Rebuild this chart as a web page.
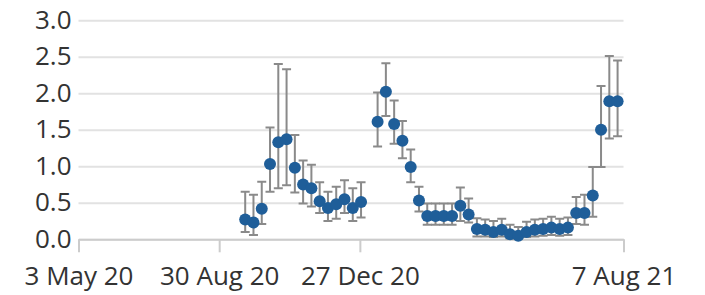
<!DOCTYPE html>
<html>
<head>
<meta charset="utf-8">
<script src="https://cdn.jsdelivr.net/npm/d3@7"></script>
<style>
  html, body { margin: 0; padding: 0; background: #fff; }
  svg { display: block; font-family: "Open Sans", sans-serif; }
</style>
</head>
<body>
<script>
// weekly estimates, week of (Monday); one week missing in early January
const weeks = [
  "2020-09-21", "2020-09-28", "2020-10-05", "2020-10-12", "2020-10-19",
  "2020-10-26", "2020-11-02", "2020-11-09", "2020-11-16", "2020-11-23",
  "2020-11-30", "2020-12-07", "2020-12-14", "2020-12-21", "2020-12-28",
  "2021-01-11", "2021-01-18", "2021-01-25", "2021-02-01", "2021-02-08",
  "2021-02-15", "2021-02-22", "2021-03-01", "2021-03-08", "2021-03-15",
  "2021-03-22", "2021-03-29", "2021-04-05", "2021-04-12", "2021-04-19",
  "2021-04-26", "2021-05-03", "2021-05-10", "2021-05-17", "2021-05-24",
  "2021-05-31", "2021-06-07", "2021-06-14", "2021-06-21", "2021-06-28",
  "2021-07-05", "2021-07-12", "2021-07-19", "2021-07-26", "2021-08-02",
];
const estimate = [
  0.27, 0.23, 0.42, 1.03, 1.33, 1.37, 0.98, 0.75, 0.70, 0.52,
  0.43, 0.48, 0.55, 0.43, 0.51,
  1.61, 2.02, 1.58, 1.35, 0.99, 0.53, 0.32, 0.32, 0.32, 0.32,
  0.46, 0.34, 0.14, 0.13, 0.10, 0.13, 0.07, 0.05, 0.10, 0.13,
  0.14, 0.16, 0.14, 0.16, 0.36, 0.36, 0.60, 1.50, 1.89, 1.89,
];
const lower = [
  0.10, 0.06, 0.21, 0.65, 0.70, 0.74, 0.64, 0.49, 0.45, 0.36,
  0.25, 0.28, 0.36, 0.25, 0.30,
  1.27, 1.69, 1.31, 1.11, 0.78, 0.38, 0.20, 0.20, 0.20, 0.20,
  0.25, 0.23, 0.04, 0.04, 0.03, 0.04, 0.01, 0.01, 0.03, 0.04,
  0.05, 0.06, 0.05, 0.06, 0.21, 0.20, 0.31, 0.99, 1.38, 1.41,
];
const upper = [
  0.65, 0.61, 0.79, 1.53, 2.40, 2.33, 1.43, 1.08, 1.02, 0.78,
  0.65, 0.72, 0.81, 0.70, 0.78,
  2.01, 2.41, 1.90, 1.62, 1.23, 0.72, 0.49, 0.49, 0.49, 0.49,
  0.71, 0.56, 0.29, 0.27, 0.25, 0.28, 0.20, 0.17, 0.24, 0.27,
  0.28, 0.31, 0.28, 0.30, 0.58, 0.61, 0.99, 2.10, 2.51, 2.45,
];
const xTicks = ["2020-05-03", "2020-08-30", "2020-12-27", "2021-08-07"];
const yTicks = [0, 0.5, 1, 1.5, 2, 2.5, 3];

const WIDTH = 705;
const HEIGHT = 295;
const MARGIN = { top: 20.3, right: 81.5, bottom: 55.7, left: 78.5 };
const DOT_COLOR = "#1f5e99";
const BAR_COLOR = "#8a8a8a";
const GRID_COLOR = "#e2e2e2";
const AXIS_COLOR = "#cccccc";
const TEXT_COLOR = "#333";

const parse = d3.utcParse("%Y-%m-%d");
const fmt = d3.utcFormat("%-d %b %y");

const data = weeks.map((w, i) => ({
  date: parse(w),
  value: estimate[i],
  lo: lower[i],
  hi: upper[i],
}));

const xScale = d3
  .scaleUtc()
  .domain([parse(xTicks[0]), parse(xTicks[xTicks.length - 1])])
  .range([MARGIN.left, WIDTH - MARGIN.right]);
const yScale = d3
  .scaleLinear()
  .domain([0, 3])
  .range([HEIGHT - MARGIN.bottom, MARGIN.top]);

const grid = g =>
  g
    .attr("transform", `translate(${MARGIN.left}, 0)`)
    .call(
      d3
        .axisLeft(yScale)
        .tickValues(yTicks)
        .tickSize(-(WIDTH - MARGIN.left - MARGIN.right))
        .tickFormat("")
    )
    .call(g => g.select(".domain").remove())
    .call(g => g.selectAll(".tick line").attr("stroke", GRID_COLOR).attr("stroke-width", 2));

const yAxis = g =>
  g
    .attr("transform", `translate(${MARGIN.left - 7}, 0)`)
    .call(
      d3
        .axisLeft(yScale)
        .tickValues(yTicks)
        .tickSize(0)
        .tickPadding(0)
        .tickFormat(d3.format(".1f"))
    )
    .call(g => g.select(".domain").remove())
    .call(g =>
      g
        .selectAll(".tick text")
        .attr("fill", TEXT_COLOR)
        .attr("font-size", 26)
        .attr("font-family", "Open Sans, sans-serif")
        .attr("dy", "0.3em")
    );

const xAxis = g =>
  g
    .attr("transform", `translate(0, ${yScale(0)})`)
    .call(
      d3
        .axisBottom(xScale)
        .tickValues(xTicks.map(parse))
        .tickSize(13)
        .tickSizeOuter(0)
        .tickPadding(0)
        .tickFormat(fmt)
    )
    .call(g => g.select(".domain").attr("stroke", AXIS_COLOR).attr("stroke-width", 2))
    .call(g => g.selectAll(".tick line").attr("stroke", AXIS_COLOR).attr("stroke-width", 2))
    .call(g =>
      g
        .selectAll(".tick text")
        .attr("fill", TEXT_COLOR)
        .attr("font-size", 26)
        .attr("font-family", "Open Sans, sans-serif")
        .attr("y", 46)
        .attr("dy", 0)
    );

const errorBars = g =>
  g
    .attr("stroke", BAR_COLOR)
    .attr("stroke-width", 2)
    .attr("fill", "none")
    .selectAll("path")
    .data(data)
    .join("path")
    .attr("d", d => {
      const x = xScale(d.date);
      const y0 = yScale(d.lo);
      const y1 = yScale(d.hi);
      return `M${x - 4.5},${y1}H${x + 4.5}M${x},${y1}V${y0}M${x - 4.5},${y0}H${x + 4.5}`;
    });

const dots = g =>
  g
    .attr("fill", DOT_COLOR)
    .selectAll("circle")
    .data(data)
    .join("circle")
    .attr("cx", d => xScale(d.date))
    .attr("cy", d => yScale(d.value))
    .attr("r", 6);

const svg = d3
  .select("body")
  .append("svg")
  .attr("viewBox", [0, 0, WIDTH, HEIGHT])
  .attr("width", WIDTH)
  .attr("height", HEIGHT);

svg.append("g").call(grid);
svg.append("g").call(yAxis);
svg.append("g").call(xAxis);
svg.append("g").call(errorBars);
svg.append("g").call(dots);
</script>
</body>
</html>
